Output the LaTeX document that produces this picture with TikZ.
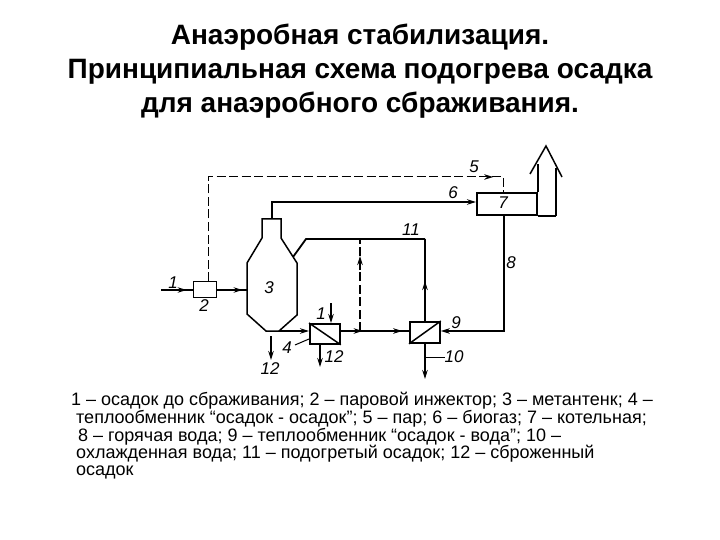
\documentclass[tikz,border=0pt]{standalone}
\usepackage{fontspec}
\setmainfont{Liberation Sans}
\usetikzlibrary{arrows.meta}
\usetikzlibrary{decorations.markings}
\tikzset{
  pipe/.style={line width=1.8pt},
  wall/.style={line width=1.5pt},
  gas/.style={line width=1pt,dash pattern=on 9pt off 3.5pt},
  unit/.style={draw,line width=1.8pt,rectangle,inner sep=0pt,anchor=north west},
  num/.style={inner sep=0pt,font=\itshape\fontsize{17}{17}\selectfont},
  capline/.style={inner sep=0pt,anchor=base west,font=\fontsize{18}{18}\selectfont},
  tip/.style={postaction={decorate,decoration={markings,mark=at position #1 with {\arrow{>}}}}}
}
\begin{document}
\begin{tikzpicture}[x=1pt,y=-1pt,>={Stealth[length=9pt,width=5.5pt]}]
  \useasboundingbox (0,0) rectangle (720,540);
  \node (title) at (360,71)[inner sep=0pt,align=center,font=\bfseries\fontsize{28}{34}\selectfont]{Анаэробная стабилизация.\\Принципиальная схема подогрева осадка\\для анаэробного сбраживания.};

  \node[unit,minimum width=23pt,minimum height=16pt,line width=1.2pt] (2) at (193,281){};
  \node[unit,minimum width=60pt,minimum height=22pt] (7) at (476,192){};
  \node[unit,minimum width=30pt,minimum height=20pt] (4) at (309,323){};
  \node[unit,minimum width=30pt,minimum height=21pt] (9) at (409,321){};

  % tank
  \coordinate (neckl) at (262,219);
  \coordinate (neckr) at (281,219);
  \coordinate (nozzle) at (272,219);
  \coordinate (shoulder) at (293,257);
  \coordinate (bottom) at (279,331);
  \coordinate (drain) at (271,336);
  \coordinate (side) at (247,290);
  \draw[wall] (neckl)--(neckr)--(281,238)--(297,263)--(297,315)--(bottom)--(266,331)--(247,314)--(247,263)--(262,238)--cycle;

  % chimney
  \coordinate (apex) at (546,146);
  \coordinate (base) at (556,214);
  \draw[wall] (530,174)--(apex)--(562,177);
  \draw[wall] (7.north east)--(7.north east |- 0,164);
  \draw[wall] (7.south east -| base)--(556,168);
  \draw[wall] (7.south east)--(7.south east -| base);

  % steam
  \coordinate (in1) at (161,290);
  \coordinate (steam1) at (208,177);
  \coordinate (steam2) at (503,177);
  \draw[line width=1.2pt,tip=0.8](in1)--(2.west |- in1);
  \draw[line width=1.2pt,tip=0.85](2.east |- side)--(side);
  \draw[gas,tip=0.94](2.north -| steam1)--(steam1)--(steam2)--(7.north -| steam2);

  % biogas and sludge
  \draw[pipe,->](nozzle)--(272,202)--(7.west |- 0,202);
  \draw[pipe](shoulder)--(306,239)--(425,239);
  \draw[pipe](9.north)--(425,239);
  \draw[pipe,->](9.north)--(425,281);
  \draw[gas,line width=1.8pt](360,331)--(360,239);
  \draw[pipe,->](360,270)--(360,256);
  \draw[pipe,->](bottom)--(4.west |- bottom);
  \draw[pipe,tip=0.32,tip=0.9](4.east |- bottom)--(9.west |- bottom);

  % hot water
  \draw[pipe,->](7.south -| 504,0)--(504,331)--(9.east |- 0,331);

  % heat exchangers
  \draw[wall](4.north west)--(4.south east);
  \draw[wall](9.south west)--(9.north east);
  \coordinate (hx1) at (331,303);
  \coordinate (out12) at (320,367);
  \coordinate (low12) at (271,360);
  \coordinate (cold) at (425,379);
  \draw[pipe,->](hx1)--(4.north -| hx1);
  \draw[pipe,->](4.south -| out12)--(out12);
  \draw[pipe,->](drain)--(low12);
  \draw[pipe,->](9.south)--(cold);
  \draw[line width=1pt](425,357)--(445,357);
  \draw[line width=1pt](309,339)--(295,345);

  % numbers
  \node[num] (l1) at (173,283){1};
  \node[num] (l2) at (204,306){2};
  \node[num] (l3) at (269,288){3};
  \node[num] (l1b) at (321,314){1};
  \node[num] (l4) at (287,348){4};
  \node[num] (l12a) at (270,369){12};
  \node[num] (l12b) at (334,357){12};
  \node[num] (l5) at (474,167){5};
  \node[num] (l6) at (453,193){6};
  \node[num] (l7) at (503,203){7};
  \node[num] (l8) at (511,263){8};
  \node[num] (l9) at (456,323){9};
  \node[num] (l10) at (454,357){10};
  \node[num] (l11) at (411,230){11};

  % caption
  \node[capline] (c1) at (71,405){1 – осадок до сбраживания; 2 – паровой инжектор; 3 – метантенк; 4 –};
  \node[capline] (c2) at (76,423){теплообменник “осадок - осадок”; 5 – пар; 6 – биогаз; 7 – котельная;};
  \node[capline] (c3) at (78,441){8 – горячая вода; 9 – теплообменник “осадок - вода”; 10 –};
  \node[capline] (c4) at (76,458){охлажденная вода; 11 – подогретый осадок; 12 – сброженный};
  \node[capline] (c5) at (76,475){осадок};
\end{tikzpicture}
\end{document}
